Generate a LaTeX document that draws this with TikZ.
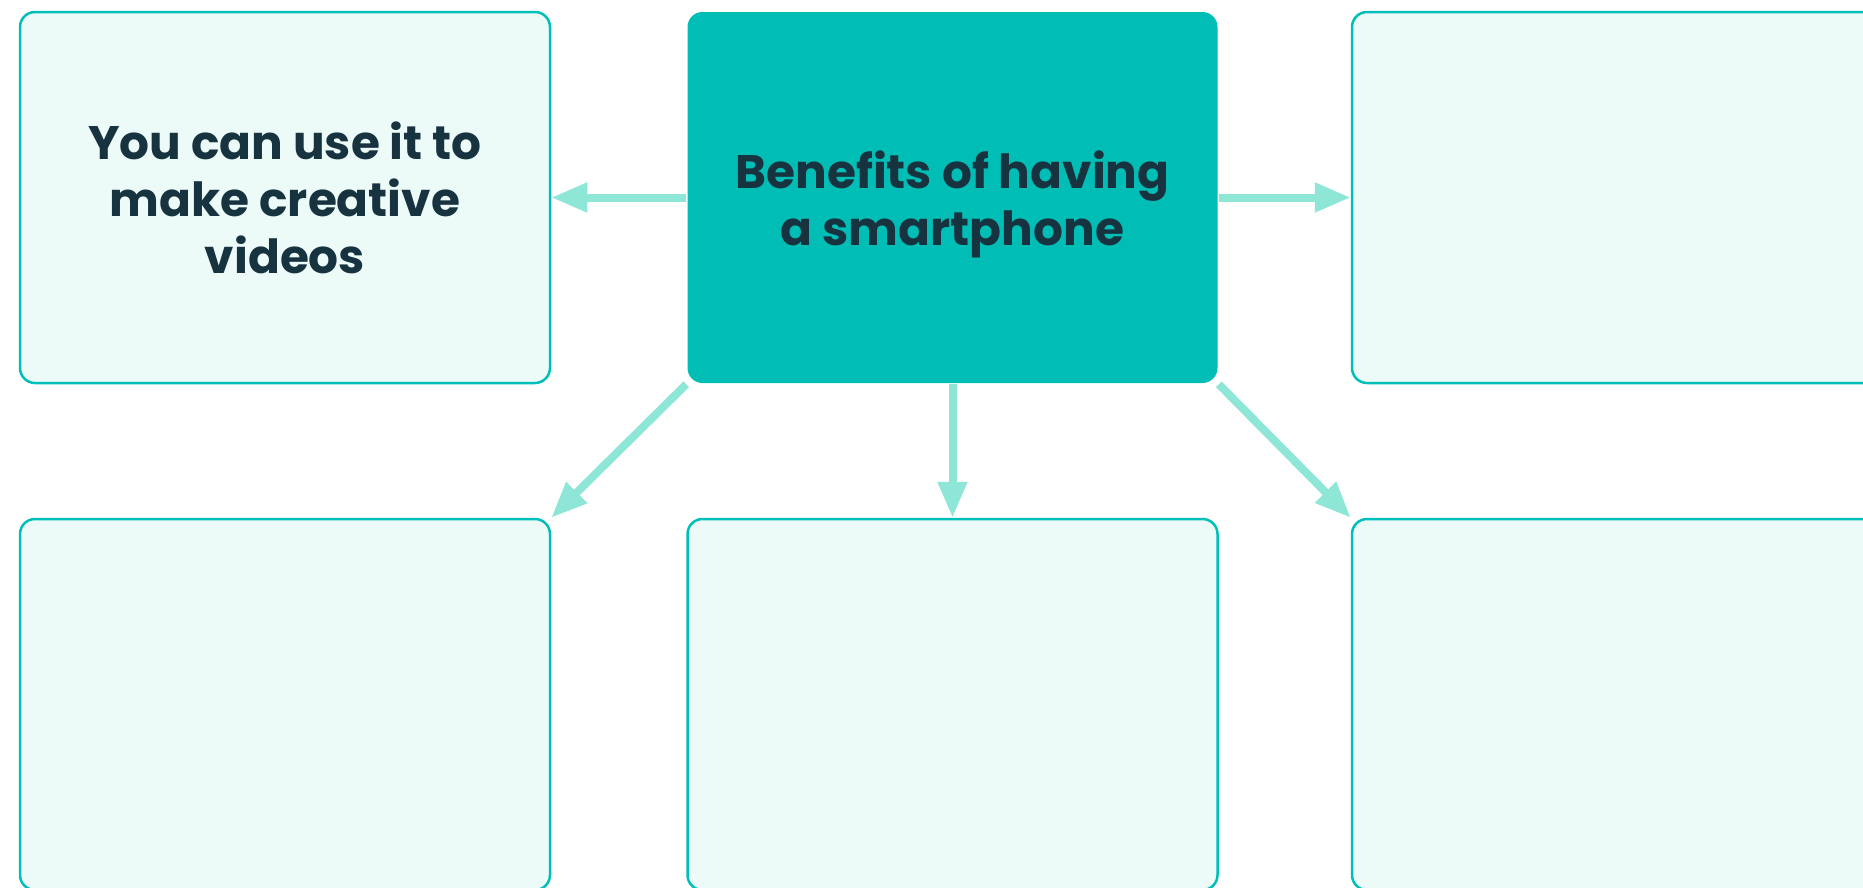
\documentclass[tikz,border=0pt]{standalone}
\usepackage{fontspec}
\setmainfont{Poppins}
\usetikzlibrary{arrows.meta}
\definecolor{hubfill}{RGB}{0,189,181}
\definecolor{boxline}{RGB}{0,191,184}
\definecolor{boxfill}{RGB}{236,251,248}
\definecolor{linkcol}{RGB}{142,230,214}
\definecolor{ink}{RGB}{23,51,64}
\begin{document}
\begin{tikzpicture}[x=1pt, y=-1pt,
  font=\bfseries\fontsize{47}{57}\selectfont,
  card/.style={draw=boxline, line width=2.5pt, fill=boxfill, rounded corners=15pt,
    minimum width=530pt, minimum height=371pt, inner sep=0pt, text=ink, align=center},
  hubcard/.style={card, draw=none, fill=hubfill},
  link/.style={draw=linkcol, line width=8pt, -{Triangle[length=36pt,width=28pt]}}]

\useasboundingbox (0,0) rectangle (1863,887);

\node[hubcard] (hub) at (952.5,197.5) {\rule{0pt}{51pt}Benefits of having\\a smartphone};

\node[card] (tl) at (285,197.5) {You can use it to\\make creative\\videos};
\node[card] (tr) at (1617,197.5) {};

\foreach \x/\n in {285/bl,952.5/bm,1617/br}
\node[card] (\n) at (\x,704.5) {};

\draw[link] (hub) -- (tl);
\draw[link] (hub) -- (tr);
\draw[link] (hub) -- (bm);
\draw[link] (hub.south west) -- (bl.north east);
\draw[link] (hub.south east) -- (br.north west);
\end{tikzpicture}
\end{document}
